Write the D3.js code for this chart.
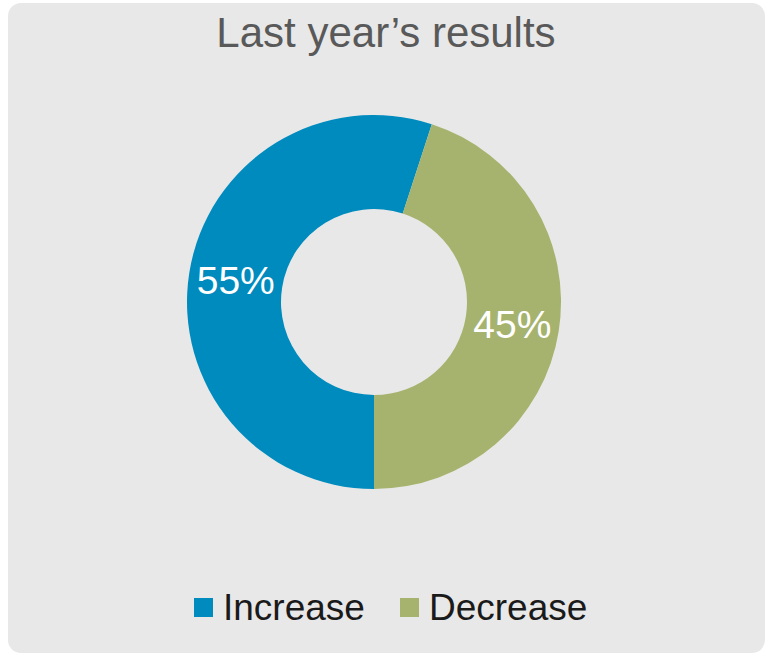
<!DOCTYPE html>
<html>
<head>
<meta charset="utf-8">
<script src="https://cdn.jsdelivr.net/npm/d3@7"></script>
<style>
  body { margin: 0; background: #fff; }
  text { font-family: "Liberation Sans", Arial, sans-serif; }
</style>
</head>
<body>
<div id="chart"></div>
<script>
// chart data
var categories = ["Increase", "Decrease"];
var values = [55, 45];
var labels = ["55%", "45%"];
var colors = ["#008bbf", "#a6b36e"];

var width = 772,
    height = 660;

var svg = d3.select("#chart").append("svg")
    .attr("width", width)
    .attr("height", height);

// panel background
svg.append("rect")
    .attr("x", 8)
    .attr("y", 3)
    .attr("width", 757)
    .attr("height", 650)
    .attr("rx", 13)
    .attr("fill", "#e8e8e8");

svg.append("text")
    .attr("x", 386)
    .attr("y", 47)
    .attr("text-anchor", "middle")
    .style("font-size", "42px")
    .style("fill", "#595959")
    .text("Last year\u2019s results");

var outer = 187,
    inner = 93;

var g = svg.append("g")
    .attr("transform", "translate(374,302)");

var color = d3.scaleOrdinal().domain(categories).range(colors);

var pie = d3.pie()
    .sort(null)
    .startAngle(Math.PI)
    .endAngle(3 * Math.PI)
    .value(function(d) { return d; });

var arc = d3.arc()
    .outerRadius(outer)
    .innerRadius(inner);

var slices = g.selectAll(".slice")
    .data(pie(values))
    .enter().append("g")
    .attr("class", "slice");

slices.append("path")
    .attr("d", arc)
    .attr("fill", function(d, i) { return color(categories[i]); });

slices.append("text")
    .attr("transform", function(d) { return "translate(" + arc.centroid(d) + ")"; })
    .attr("dy", "0.35em")
    .attr("text-anchor", "middle")
    .style("font-size", "39px")
    .style("fill", "#ffffff")
    .text(function(d, i) { return labels[i]; });

// legend
var legendX = d3.scaleOrdinal().domain(categories).range([194, 400]);

var legend = svg.selectAll(".legend")
    .data(categories)
    .enter().append("g")
    .attr("class", "legend")
    .attr("transform", function(d) { return "translate(" + legendX(d) + ",598)"; });

legend.append("rect")
    .attr("width", 19)
    .attr("height", 19)
    .attr("fill", function(d) { return color(d); });

legend.append("text")
    .attr("x", 29)
    .attr("y", 22)
    .style("font-size", "37px")
    .style("fill", "#1a1a1a")
    .text(function(d) { return d; });
</script>
</body>
</html>
